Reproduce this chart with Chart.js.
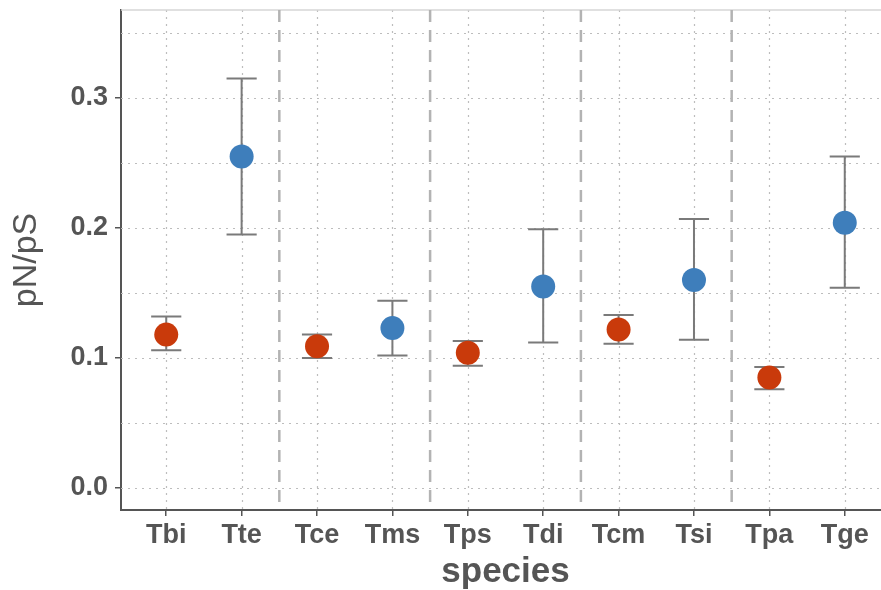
<!DOCTYPE html>
<html>
<head>
<meta charset="utf-8">
<script src="https://cdn.jsdelivr.net/npm/chart.js"></script>
<style>
  html, body { margin: 0; padding: 0; background: #fff; overflow: hidden; }
  #wrap { width: 891px; height: 590px; }
</style>
</head>
<body>
<div id="wrap"><canvas id="chart" width="891" height="590"></canvas></div>
<script>
const species = ["Tbi", "Tte", "Tce", "Tms", "Tps", "Tdi", "Tcm", "Tsi", "Tpa", "Tge"];
const pnps  = [0.118, 0.255, 0.109, 0.123, 0.104, 0.155, 0.122, 0.160, 0.085, 0.204];
const lower = [0.106, 0.195, 0.100, 0.102, 0.094, 0.112, 0.111, 0.114, 0.076, 0.154];
const upper = [0.132, 0.315, 0.118, 0.144, 0.113, 0.199, 0.133, 0.207, 0.093, 0.255];
const group = ["a", "b", "a", "b", "a", "b", "a", "b", "a", "b"];
const yTicks = [0, 0.1, 0.2, 0.3];
const yMinor = [0.05, 0.15, 0.25, 0.35];
const separators = [2.5, 4.5, 6.5, 8.5];

const groupColors = { a: "#C93A0B", b: "#3E7EBB" };
const axisGray = "#555555";
const font = "'Liberation Sans', Arial, sans-serif";

// dotted grid, dashed separators and error bars, drawn under the points
const backdrop = {
    id: "backdrop",
    beforeDatasetsDraw(chart) {
        const ctx = chart.ctx;
        const area = chart.chartArea;
        const x = chart.scales.x;
        const y = chart.scales.y;
        ctx.save();

        ctx.strokeStyle = "#bdbdbd";
        ctx.lineWidth = 1.2;
        ctx.setLineDash([2, 5]);
        yTicks.concat(yMinor).forEach(v => {
            const py = Math.round(y.getPixelForValue(v)) + 0.5;
            ctx.beginPath();
            ctx.moveTo(area.left, py);
            ctx.lineTo(area.right, py);
            ctx.stroke();
        });
        species.forEach((s, i) => {
            const px = Math.round(x.getPixelForValue(i + 1)) + 0.5;
            ctx.beginPath();
            ctx.moveTo(px, area.top);
            ctx.lineTo(px, area.bottom);
            ctx.stroke();
        });

        // top panel border
        ctx.setLineDash([]);
        ctx.strokeStyle = "#d6d6d6";
        ctx.lineWidth = 1.5;
        ctx.beginPath();
        ctx.moveTo(area.left, area.top);
        ctx.lineTo(area.right, area.top);
        ctx.stroke();

        ctx.strokeStyle = "#b3b3b3";
        ctx.lineWidth = 2.5;
        ctx.setLineDash([12, 8]);
        separators.forEach(v => {
            const px = x.getPixelForValue(v);
            ctx.beginPath();
            ctx.moveTo(px, area.top);
            ctx.lineTo(px, area.bottom);
            ctx.stroke();
        });

        ctx.setLineDash([]);
        ctx.strokeStyle = "#7a7a7a";
        ctx.lineWidth = 2;
        const half = x.getPixelForValue(1.2) - x.getPixelForValue(1);
        species.forEach((s, i) => {
            const px = x.getPixelForValue(i + 1);
            const yl = y.getPixelForValue(lower[i]);
            const yu = y.getPixelForValue(upper[i]);
            ctx.beginPath();
            ctx.moveTo(px, yl); ctx.lineTo(px, yu);
            ctx.moveTo(px - half, yl); ctx.lineTo(px + half, yl);
            ctx.moveTo(px - half, yu); ctx.lineTo(px + half, yu);
            ctx.stroke();
        });
        ctx.restore();
    }
};

new Chart(document.getElementById("chart"), {
    type: "scatter",
    data: {
        datasets: [{
            data: pnps.map((v, i) => ({ x: i + 1, y: v })),
            pointRadius: 12,
            pointHoverRadius: 12,
            pointBorderWidth: 0,
            pointBackgroundColor: group.map(g => groupColors[g]),
            pointBorderColor: group.map(g => groupColors[g])
        }]
    },
    options: {
        responsive: false,
        animation: false,
        devicePixelRatio: 1,
        layout: { autoPadding: false, padding: { top: 10, right: 1, left: 0, bottom: 0 } },
        plugins: { legend: { display: false }, tooltip: { enabled: false } },
        scales: {
            x: {
                type: "linear",
                min: 0.4,
                max: 10.6,
                afterBuildTicks: s => { s.ticks = species.map((n, i) => ({ value: i + 1 })); },
                afterFit: s => { s.height = 80; s.paddingLeft = 0; s.paddingRight = 0; },
                ticks: {
                    autoSkip: false,
                    maxRotation: 0,
                    padding: 3,
                    color: axisGray,
                    font: { family: font, size: 27, weight: "bold" },
                    callback: v => species[Math.round(v) - 1]
                },
                grid: { drawOnChartArea: false, color: axisGray, lineWidth: 1.5, tickLength: 6 },
                border: { display: true, color: axisGray, width: 2 },
                title: {
                    display: true,
                    text: "species",
                    color: axisGray,
                    padding: { top: 0, bottom: 0 },
                    font: { family: font, size: 35, weight: "bold", lineHeight: 1.0 }
                }
            },
            y: {
                min: -0.0169,
                max: 0.3677,
                afterBuildTicks: s => { s.ticks = yTicks.map(v => ({ value: v })); },
                afterFit: s => { s.width = 121; s.paddingTop = 0; s.paddingBottom = 0; },
                ticks: {
                    padding: 7,
                    color: axisGray,
                    font: { family: font, size: 27, weight: "bold" },
                    callback: v => v.toFixed(1)
                },
                grid: { drawOnChartArea: false, color: axisGray, lineWidth: 1.5, tickLength: 6 },
                border: { display: true, color: axisGray, width: 2 },
                title: {
                    display: true,
                    text: "pN/pS",
                    color: axisGray,
                    padding: { top: 6, bottom: 0 },
                    font: { family: font, size: 34, lineHeight: 1.2 }
                }
            }
        }
    },
    plugins: [backdrop]
});
</script>
</body>
</html>
